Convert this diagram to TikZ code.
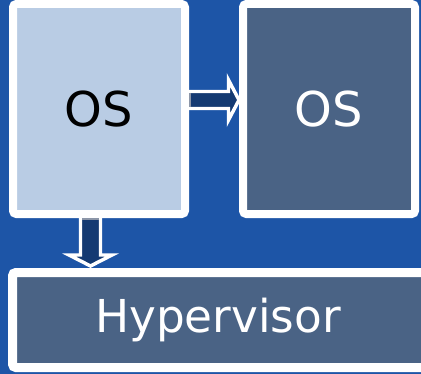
\documentclass[tikz,border=0pt]{standalone}
\usepackage{fontspec}
\setmainfont{DejaVu Sans}
\usetikzlibrary{calc}
\definecolor{bgblue}{HTML}{1D55A7}
\definecolor{guestlight}{HTML}{B9CCE4}
\definecolor{slate}{HTML}{4A6385}
\definecolor{arrownavy}{HTML}{143A72}
\definecolor{tailgray}{HTML}{8C96A8}
\begin{document}
\begin{tikzpicture}[x=0.75pt,y=-0.75pt,
  osbox/.style={draw=white, line width=6pt, rounded corners=2.5pt,
    minimum width=129pt, minimum height=157.5pt, inner sep=0pt, outer sep=0pt,
    font=\fontsize{36}{40}\selectfont},
  arrowfill/.style={fill=arrownavy},
  arrowedge/.style={draw=white, line width=2.6pt, line join=miter},
  arrowtail/.style={draw=tailgray, line width=1.5pt}]
\useasboundingbox (0,0) rectangle (421,374);
\fill[bgblue] (0,0) rectangle (421,374);
\clip (0,0) rectangle (421,374);

% guest operating systems and the hypervisor below them
\node[osbox, fill=guestlight, text=black] (osL) at (99,109) {OS};
\node[osbox, fill=slate, text=white] (osR) at (329,109) {OS};
\node[draw=white, line width=6.75pt, rounded corners=2.5pt, fill=slate,
  minimum width=320.6pt, minimum height=71.25pt, inner sep=0pt, outer sep=0pt] (hv) at (226.25,320) {};
\node[anchor=base, text=white, font=\fontsize{34}{40}\selectfont] (hvtext) at (218,332) {Hypervisor};

% block arrow: migration from one OS to the other
\fill[arrowfill] ($(osL.east)+(4,-17.5)$) -- ($(osR.west)+(-14.5,-17.5)$) -- ($(osR.west)+(-14.5,-29)$)
  -- ($(osR.west)+(-4,-9)$) -- ($(osR.west)+(-14.5,11)$) -- ($(osR.west)+(-14.5,-0.5)$)
  -- ($(osL.east)+(4,-0.5)$) -- cycle;
\draw[arrowedge] ($(osL.east)+(4,-17.5)$) -- ($(osR.west)+(-14.5,-17.5)$) -- ($(osR.west)+(-14.5,-29)$)
  -- ($(osR.west)+(-4,-9)$) -- ($(osR.west)+(-14.5,11)$) -- ($(osR.west)+(-14.5,-0.5)$)
  -- ($(osL.east)+(4,-0.5)$);
\draw[arrowtail] ($(osL.east)+(4.5,-16)$) -- ($(osL.east)+(4.5,-2)$);

% block arrow: OS down onto the hypervisor
\coordinate (vp) at (osL.south |- hv.north);
\fill[arrowfill] ($(osL.south)+(-18.5,4)$) -- ($(vp)+(-18.5,-17.5)$) -- ($(vp)+(-30,-17.5)$)
  -- ($(vp)+(-8.5,-6.5)$) -- ($(vp)+(13,-17.5)$) -- ($(vp)+(1.5,-17.5)$)
  -- ($(osL.south)+(1.5,4)$) -- cycle;
\draw[arrowedge] ($(osL.south)+(-18.5,4)$) -- ($(vp)+(-18.5,-17.5)$) -- ($(vp)+(-30,-17.5)$)
  -- ($(vp)+(-8.5,-6.5)$) -- ($(vp)+(13,-17.5)$) -- ($(vp)+(1.5,-17.5)$)
  -- ($(osL.south)+(1.5,4)$);
\draw[arrowtail] ($(osL.south)+(-17,4.5)$) -- ($(osL.south)+(0,4.5)$);
\end{tikzpicture}
\end{document}
